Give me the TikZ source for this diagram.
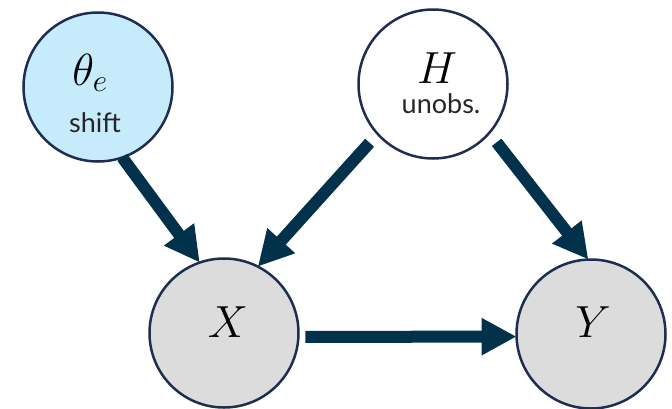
\RequirePackage{fix-cm}
\documentclass[tikz,border=0pt]{standalone}
\usepackage{fontspec}
\setsansfont{Lato}
\usetikzlibrary{arrows.meta}
\definecolor{navy}{RGB}{30,45,80}
\definecolor{arrowc}{RGB}{2,50,75}
\definecolor{lblue}{RGB}{198,236,252}
\definecolor{lgray}{RGB}{220,220,220}
\begin{document}
\begin{tikzpicture}[x=1pt,y=-1pt,
  var/.style={circle,draw=navy,line width=2.5pt,minimum size=149pt,inner sep=0pt,outer sep=0pt},
  mathlbl/.style={font=\fontsize{45}{45}\selectfont,anchor=base,inner sep=0pt},
  sublbl/.style={font=\sffamily\fontsize{27}{27}\selectfont,anchor=base,inner sep=0pt,text=black!85},
  edge/.style={draw=arrowc,line width=12pt,-{Triangle[length=35pt,width=35pt]}}]
\useasboundingbox (0,0) rectangle (672,408);
\node[var,fill=lblue] (th) at (98,87) {};
\node[var,fill=white] (H) at (433,84) {};
\node[var,fill=lgray] (X) at (224,333) {};
\node[var,fill=lgray] (Y) at (591,334) {};
\node[mathlbl] (thl) at (90,85) {$\theta_e$};
\node[sublbl] (ths) at (95,132) {shift};
\node[mathlbl] (Hl) at (437,83) {$H$};
\node[sublbl] (Hs) at (441,113) {unobs.};
\node[mathlbl] (Xl) at (228,337) {$X$};
\node[mathlbl] (Yl) at (593,337) {$Y$};
\draw[edge] (th.-71) -- (X.109);
\draw[edge,shorten <=12pt] (H.-138) -- (X.63);
\draw[edge,shorten <=12pt] (H.-41) -- (Y.92);
\draw[edge,shorten <=7pt] (X.-3) -- (Y.182);
\end{tikzpicture}
\end{document}
